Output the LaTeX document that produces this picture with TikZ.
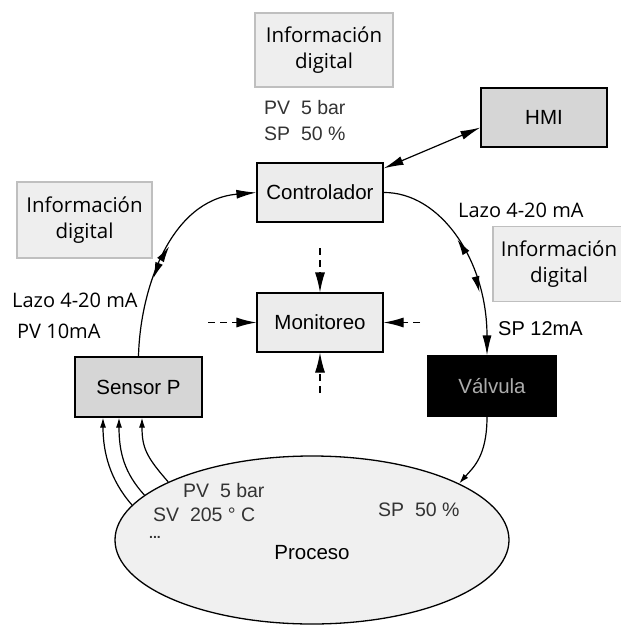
\documentclass[tikz,border=0pt]{standalone}
\usepackage{fontspec}
\setmainfont{Liberation Sans}
\newfontfamily\hum{Open Sans}
\usetikzlibrary{arrows.meta,shapes.geometric,decorations.markings}
\begin{document}
\begin{tikzpicture}[x=1pt,y=-1pt,
  info/.style={draw=gray!50, fill=gray!13, line width=1.3pt, align=center,
    font=\hum\fontsize{20.5}{26}\selectfont, inner sep=0pt},
  box/.style={draw=black, fill=gray!15, line width=1.2pt, minimum width=126pt,
    minimum height=59pt, inner sep=0pt, font=\fontsize{20.5}{24}\selectfont},
  dbox/.style={box, fill=gray!32},
  lbl/.style={inner sep=0pt, anchor=west, font=\fontsize{19.5}{22}\selectfont, text=black!80},
  hlbl/.style={inner sep=0pt, anchor=west, font=\hum\fontsize{20}{24}\selectfont},
  conn/.style={line width=1.2pt},
  bigtip/.style={-{Latex[length=20pt,width=9pt]}},
  smalltip/.style={-{Latex[length=10pt,width=6pt]}},
  dashline/.style={line width=1.2pt, dash pattern=on 7pt off 5pt, -{Latex[length=20pt,width=10pt]}},
  midarrows/.style 2 args={postaction={decorate}, decoration={markings,
    mark=at position #1 with {\arrowreversed{Latex[length=16pt,width=8pt]}},
    mark=at position #2 with {\arrow{Latex[length=16pt,width=8pt]}}}},
]
\useasboundingbox (0,0) rectangle (620,628);

% info boxes
\node[info, minimum width=138pt, minimum height=74pt] (infT) at (324,50) {Información\\digital};
\node[info, minimum width=135pt, minimum height=76pt] (infL) at (84.5,220) {Información\\digital};
\node[info, minimum width=132pt, minimum height=75pt] (infR) at (559,264) {Información\\digital};

% boxes
\node[dbox] (hmi) at (544,117.5) {HMI};
\node[box] (ctrl) at (320,192.5) {Controlador};
\node[box] (mon) at (320,322.5) {Monitoreo};
\node[dbox, minimum width=127pt, minimum height=60pt] (sensor) at (138.5,387) {Sensor P};
\node[box, fill=black, text=gray!65, minimum width=128pt, minimum height=60pt] (valve) at (492,386) {Válvula};

% process
\node[ellipse, draw=black, fill=gray!12, line width=1.3pt, minimum width=394pt,
  minimum height=168pt, inner sep=0pt] (proc) at (312,540) {};
\node[inner sep=0pt, font=\fontsize{20.5}{24}\selectfont] (procL) at (312,553) {Proceso};

% labels
\node[lbl] (tpv) at (264,108) {PV\ \ 5 bar};
\node[lbl] (tsp) at (264,134) {SP\ \ 50 \%};
\node[hlbl] (lazoL) at (12,300) {Lazo 4-20 mA};
\node[hlbl] (pvL) at (17,331) {PV 10mA};
\node[hlbl] (lazoR) at (458,210) {Lazo 4-20 mA};
\node[lbl, font=\fontsize{20}{24}\selectfont, text=black] (spR) at (498,329) {SP 12mA};
\node[lbl] (ppv) at (183,491) {PV\ \ 5 bar};
\node[lbl] (psv) at (153,515) {SV\ \ 205 ° C};
\node[lbl, font=\bfseries\fontsize{14}{16}\selectfont] (pdots) at (149,537) {...};
\node[lbl] (psp) at (378,510) {SP\ \ 50 \%};

% loops
\draw[conn, bigtip, midarrows={0.36}{0.52}] (sensor.north) .. controls (140,290) and (170,200) .. (ctrl.west);
\draw[conn, bigtip, midarrows={0.43}{0.70}] (ctrl.east) .. controls (440,192) and (487,260) .. ([xshift=-5pt]valve.north);

% HMI
\draw[conn, {Latex[length=20pt,width=9pt]}-{Latex[length=20pt,width=9pt]}]
  ([yshift=-6pt]ctrl.north east) -- ([yshift=-10pt]hmi.west);

% dashed to monitoring
\coordinate (dt) at (320,248);
\coordinate (dl) at (208,322.5);
\coordinate (dr) at (420,322.5);
\coordinate (db) at (320,393);
\draw[dashline] (dt) -- (mon.north);
\draw[dashline] (dl) -- (mon.west);
\draw[dashline] (dr) -- (mon.east);
\draw[dashline] (db) -- (mon.south);

% valve to process
\draw[conn, smalltip] ([xshift=-5pt]valve.south) .. controls +(0,40) and +(14,-16) .. (proc.21);

% process to sensor
\draw[conn, smalltip] (proc.169) .. controls +(-22,-25) and +(0,35) .. ([xshift=-35.5pt]sensor.south);
\draw[conn, smalltip] (proc.165.5) .. controls +(-20,-22) and +(0,35) .. ([xshift=-19.5pt]sensor.south);
\draw[conn, smalltip] (proc.158) .. controls +(-22,-25) and +(0,30) .. ([xshift=3.5pt]sensor.south);
\end{tikzpicture}
\end{document}
